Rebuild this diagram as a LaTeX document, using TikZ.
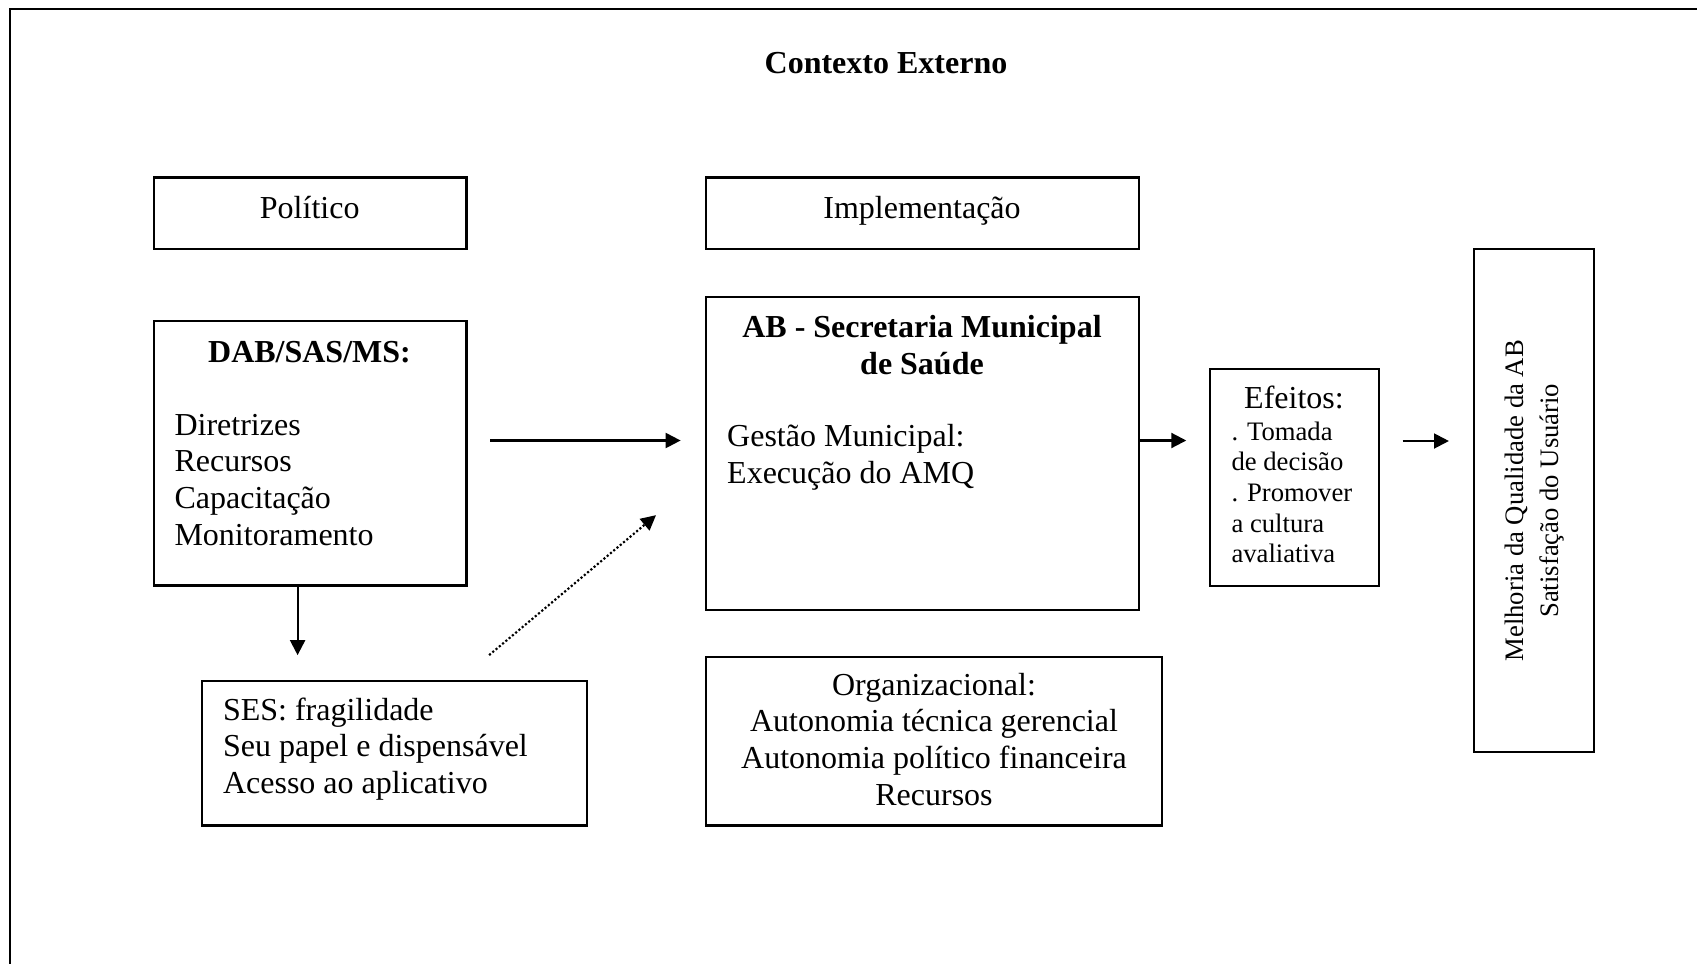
\documentclass[tikz,border=0pt]{standalone}
\usepackage{fontspec}
\setmainfont{Liberation Serif}
\usetikzlibrary{arrows.meta, fit}

\begin{document}
\begin{tikzpicture}[
        x=0.375pt, y=-0.375pt,
        every node/.style={inner sep=0pt},
        box/.style={
            rectangle,
            draw,
            line width=0.8pt
        },
        norm/.style={font=\fontsize{12}{13.8}\selectfont},
        bold/.style={font=\fontsize{12}{13.8}\selectfont\bfseries},
        small/.style={font=\fontsize{10}{11.5}\selectfont},
        rot/.style={font=\fontsize{10}{13.1}\selectfont, align=center},
        txt/.style={anchor=base west, align=left},
        arr/.style={-{Triangle[length=5.6pt, width=5.6pt]}, line width=0.8pt}
    ]
        \useasboundingbox (0,0) rectangle (1697,964);
        \clip (0,0) rectangle (1697,964);
        \draw[line width=1.1pt] (10,9) rectangle (1760,1010);

        % Boxes
        \node[box, fit={(153.7,177.5) (466.5,249)}] (politico) {};
        \node[box, fit={(705.7,177.5) (1138.6,249)}] (implementacao) {};
        \node[box, fit={(153.7,321.4) (466.5,585.5)}] (dab) {};
        \node[box, fit={(202.4,681) (586.7,825.5)}] (ses) {};
        \node[box, fit={(705.7,297.3) (1138.6,609.7)}] (ab) {};
        \node[box, fit={(705.7,656.8) (1162.4,825.5)}] (org) {};
        \node[box, fit={(1210,369) (1379,585.6)}] (efeitos) {};
        \node[box, fit={(1474,249) (1594.4,752.4)}] (melhoria) {};

        % Texts (base = last line)
        \node[bold, anchor=base] (titulo) at (886,73) {Contexto Externo};
        \node[norm, anchor=base] (politicoTxt) at (309.7,218) {Político};
        \node[norm, anchor=base] (implTxt) at (922,218) {Implementação};
        \node[bold, anchor=base] (dabTit) at (309.5,362) {DAB/SAS/MS:};
        \node[norm, txt] (dabTxt) at (174,545.4) {Diretrizes\\Recursos\\Capacitação\\Monitoramento};
        \node[norm, txt] (sesTxt) at (222.5,793.6) {SES: fragilidade\\Seu papel e dispensável\\Acesso ao aplicativo};
        \node[bold, anchor=base, align=center] (abTit) at (922,374.3) {AB - Secretaria Municipal\\de Saúde};
        \node[norm, txt] (abTxt) at (726.7,483.5) {Gestão Municipal:\\Execução do AMQ};
        \node[norm, anchor=base, align=center] (orgTxt) at (934,805.4) {Organizacional:\\Autonomia técnica gerencial\\Autonomia político financeira\\Recursos};
        \node[norm, anchor=base] (efTit) at (1294,408) {Efeitos:};
        \node[small, txt] (efTxt) at (1231,562.7) {. Tomada\\de decisão\\. Promover\\a cultura\\avaliativa};
        \node[rot, rotate=90] (melTxt) at (melhoria.center) {Melhoria da Qualidade da AB\\Satisfação do Usuário};

        % Arrows
        \draw[arr, shorten <=8.5pt, shorten >=9pt] (dab.east |- 0,440.5) -- (ab.west |- 0,440.5);
        \draw[arr, shorten >=8.5pt] (ab.east |- 0,440.5) -- (efeitos.west |- 0,440.5);
        \draw[arr, shorten <=8.5pt, shorten >=9pt] (efeitos.east |- 0,441) -- (melhoria.west |- 0,441);
        \draw[arr, shorten >=9.3pt] (dab.south -| 297.6,0) -- (ses.north -| 297.6,0);
        \draw[arr, dash pattern=on 0.8pt off 0.8pt, shorten <=14.5pt, shorten >=23.8pt] (ses.north -| 459.5,0) -- (ab.west |- 0,474.4);

\end{tikzpicture}
\end{document}
